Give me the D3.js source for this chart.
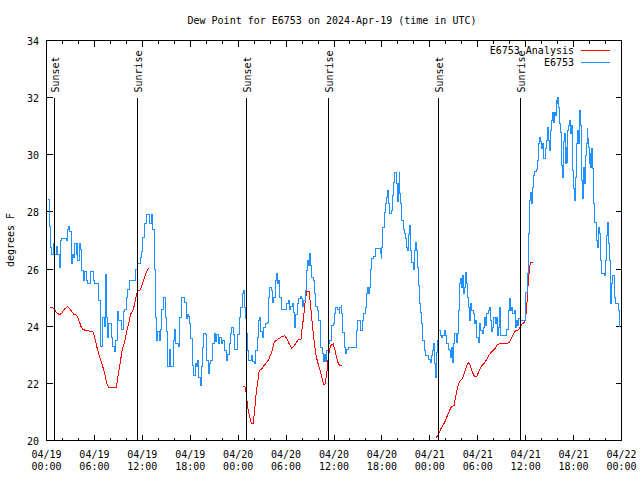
<!DOCTYPE html>
<html><head><meta charset="utf-8">
<script src="https://cdn.jsdelivr.net/npm/d3@7"></script>
<style>
body{margin:0;background:#fff;}
text{font-family:"DejaVu Sans Mono",monospace;font-size:10px;fill:#000;}
</style></head><body><svg id="c" width="640" height="480"></svg>
<script>
const chartTitle = "Dew Point for E6753 on 2024-Apr-19 (time in UTC)";
const yAxisLabel = "degrees F";
const startDate = [2024, 3, 19];
const spanHours = 72;
const yDomain = [20, 34];
const yTicks = [20, 22, 24, 26, 28, 30, 32, 34];
const seriesNames = ["E6753 Analysis", "E6753"];
const seriesColors = ["#ff0000", "#1e90ff"];
const sunEvents = [["Sunset", 0.93], ["Sunrise", 11.33], ["Sunset", 24.97], ["Sunrise", 35.30], ["Sunset", 48.97], ["Sunrise", 59.35]];

// [hours since 04/19 00:00 UTC, dew point F]
const stationReadings = [
[0.16,28.45],[0.34,28.3],[0.41,27.5],[0.50,26.77],[0.59,26.5],[0.79,26.5],[0.92,26.9],[1.04,26.5],[1.22,26.8],[1.42,26.5],
[1.63,26.05],[1.76,27.0],[1.92,27.07],[2.47,27.0],[2.60,27.4],[2.76,27.5],[2.89,27.3],[3.10,26.2],[3.22,26.5],[3.42,26.4],
[3.55,26.9],[3.73,26.5],[3.85,26.9],[3.93,26.3],[4.10,26.9],[4.27,26.7],[4.43,25.95],[4.60,25.6],[4.77,25.9],[4.98,25.6],
[5.18,25.5],[5.48,25.9],[5.68,25.9],[5.86,25.6],[6.02,25.5],[6.44,25.5],[6.56,24.9],[6.74,23.3],[6.90,23.3],[7.06,24.3],
[7.24,24.0],[7.40,25.8],[7.53,24.3],[7.65,23.6],[7.78,24.1],[7.99,24.1],[8.12,23.6],[8.32,23.3],[8.49,23.1],[8.66,23.5],
[8.87,24.5],[9.03,24.2],[9.28,24.2],[9.45,23.9],[9.62,24.5],[9.78,24.6],[10.00,25.0],[10.20,25.3],[10.45,25.6],[10.95,25.6],
[11.16,26.0],[11.38,26.2],[11.58,26.2],[11.75,26.4],[11.88,26.6],[12.08,27.1],[12.29,27.6],[12.51,27.9],[12.71,27.9],[12.88,27.6],
[13.05,27.6],[13.17,27.9],[13.33,27.4],[13.51,26.0],[13.67,24.3],[13.80,23.5],[13.96,23.8],[14.14,23.5],[14.30,23.9],[14.46,24.6],
[14.68,25.0],[14.84,24.3],[15.02,23.8],[15.18,22.6],[15.34,23.2],[15.52,22.6],[15.68,22.6],[15.84,23.5],[15.97,23.9],[16.14,23.4],
[16.47,23.3],[16.68,24.3],[16.90,25.0],[17.15,25.0],
[17.31,24.84],[17.52,24.27],[17.65,24.4],[17.81,24.35],[17.94,24.1],[18.06,23.57],[18.23,22.63],[18.44,22.27],[18.60,22.69],[18.78,22.6],
[18.94,22.8],[19.07,22.2],[19.23,21.93],[19.36,22.6],[19.53,23.27],[19.69,23.73],[19.91,23.7],[20.07,22.8],[20.23,22.33],[20.36,22.7],
[20.57,22.8],[20.79,23.38],[20.99,23.73],[21.16,23.45],[21.32,23.7],[21.49,23.4],[21.66,23.6],[21.86,23.4],[22.04,23.5],[22.24,23.15],
[22.49,22.8],[22.67,23.0],[22.87,23.4],[23.04,23.73],[23.21,23.97],[23.37,23.7],[23.55,23.2],[23.75,23.2],[23.92,23.7],[24.12,24.32],
[24.34,24.67],[24.50,25.13],[24.67,25.25],[24.80,24.67],[24.92,24.27],[25.09,23.73],[25.17,23.15],[25.25,22.8],[25.50,22.8],[25.68,22.97],
[25.80,22.75],[26.00,22.69],[26.18,23.15],[26.38,23.6],[26.56,24.2],[26.72,24.3],[26.84,23.8],[27.01,23.6],[27.22,23.97],[27.43,24.1],
[27.64,24.13],[27.76,25.02],[27.97,25.37],[28.14,25.25],[28.31,24.84],[28.48,25.02],[28.64,25.6],[28.76,25.86],[28.89,25.5],[29.07,25.6],
[29.23,25.02],[29.39,24.6],[29.64,24.6],[29.94,24.6],[30.11,24.79],[30.27,24.9],[30.39,24.6],[30.57,24.7],[30.77,24.79],[30.95,24.48],
[31.07,23.97],[31.24,24.4],[31.40,24.79],[31.57,24.96],[31.77,25.04],[31.95,24.96],[32.07,24.7],[32.24,24.9],[32.40,25.25],[32.58,25.95],
[32.70,26.3],[32.83,26.13],[32.95,26.53],[33.08,26.13],[33.24,25.72],[33.41,25.6],[33.58,25.13],[33.74,24.7],[33.91,24.55],[34.08,24.2],
[34.25,23.73],[34.37,23.27],[34.50,23.03],[34.66,22.75],[34.83,23.0],[34.96,22.75],[35.12,23.15],[35.25,23.38],[35.41,23.5],
[35.71,24.02],[35.91,24.08],[36.09,24.43],[36.25,24.67],[36.42,24.6],[36.63,24.43],[36.75,24.67],[36.88,24.73],[36.97,24.43],[37.09,23.79],
[37.26,23.27],[37.42,23.03],[37.59,23.2],[37.80,23.27],[38.64,23.27],[38.80,23.85],[38.97,24.2],[39.18,24.2],[39.35,23.85],[39.51,24.2],
[39.68,24.43],[39.89,24.67],[40.02,25.13],[40.18,25.37],[40.31,25.13],[40.43,25.37],[40.56,26.0],[40.73,26.36],[40.93,26.43],[41.14,26.71],
[41.56,26.71],[41.77,26.55],[41.90,26.37],[41.98,26.77],[42.11,27.47],[42.27,27.99],[42.44,28.28],[42.61,28.52],[42.74,28.75],[42.86,28.28],
[42.99,27.93],[43.15,28.05],[43.28,28.58],[43.40,29.04],[43.53,29.39],[43.69,29.39],[43.82,28.99],[43.90,28.35],[44.03,28.99],[44.15,29.39],
[44.24,28.63],[44.37,28.28],[44.49,27.7],[44.66,27.4],[44.78,27.25],[44.95,27.08],[45.07,26.77],[45.20,26.65],[45.32,27.2],[45.45,27.54],
[45.57,26.65],[45.75,26.24],[45.91,26.0],[46.04,26.65],[46.20,26.94],[46.33,26.65],[46.45,26.07],[46.63,25.43],[46.75,24.78],[46.88,24.48],
[47.00,24.08],[47.13,23.5],[47.29,23.15],[47.50,22.97],[47.70,22.97],[47.88,22.85],[48.04,22.73],[48.17,22.97],[48.29,23.15],[48.42,23.38],
[48.55,22.69],[48.67,22.22],[48.80,23.08],[48.96,23.5],[49.14,23.85],[49.30,23.67],[49.46,23.6],[49.64,23.67],[49.80,23.85],[49.96,23.67],
[50.14,23.38],[50.30,23.2],[50.47,23.15],[50.59,22.9],[50.72,23.27],[50.84,22.73],[50.97,23.38],[51.14,23.73],[51.31,23.43],[51.47,23.73],
[51.60,24.55],[51.72,25.48],[51.85,25.66],[51.97,25.37],[52.10,25.78],[52.22,25.13],[52.35,25.37],[52.47,25.89],[52.60,25.5],[52.72,25.02],
[52.85,24.67],[53.02,24.2],[53.15,24.78],[53.27,24.55],[53.44,24.43],[53.61,24.08],[53.78,24.2],[53.90,23.62],[54.07,23.43],
[54.23,24.08],[54.40,23.85],[54.57,23.73],[54.73,23.97],[54.90,24.32],[55.02,24.02],[55.15,24.43],[55.31,24.55],[55.44,24.67],[55.57,24.2],
[55.69,23.8],[55.86,23.97],[56.03,24.32],[56.20,24.08],[56.32,24.32],[56.45,23.67],[56.57,23.97],[56.70,24.67],[56.82,23.67],[57.45,23.67],
[57.66,23.9],[57.79,24.55],[57.92,24.96],[58.04,24.55],[58.21,24.67],[58.37,24.43],[58.55,24.55],[58.67,23.97],[58.80,24.2],[58.96,24.02],
[59.12,24.26],[59.33,24.2],[59.80,24.2],[59.96,25.19],[60.13,25.19],[60.25,25.83],[60.38,27.23],[60.50,28.4],[60.63,28.69],[60.71,28.3],
[60.80,28.87],[60.93,29.28],[61.09,29.43],[61.30,29.47],[61.50,29.8],[61.63,30.38],[61.75,30.62],[61.88,30.45],[62.00,30.21],[62.13,30.38],
[62.25,29.86],[62.43,30.21],[62.56,30.5],[62.68,30.97],[62.81,30.5],[62.93,30.15],[63.06,30.85],[63.18,31.2],[63.31,31.49],[63.43,31.14],
[63.56,31.49],[63.68,31.37],[63.81,31.9],[63.94,31.78],[64.01,32.02],[64.10,31.67],[64.19,31.08],[64.31,30.79],[64.44,30.15],[64.52,29.63],
[64.60,29.22],[64.73,30.45],[64.82,30.73],[64.94,29.69],[65.07,30.26],[65.14,29.74],[65.27,30.85],[65.40,31.02],[65.52,31.2],[65.65,30.73],
[65.77,31.02],[65.90,29.45],[66.02,28.81],[66.11,28.4],[66.19,29.22],[66.32,30.38],[66.44,30.85],[66.57,30.38],[66.69,31.31],[66.77,31.55],
[66.90,31.02],[66.99,29.1],[67.07,28.46],[67.20,29.57],[67.32,28.99],[67.45,29.98],[67.57,30.38],[67.70,30.91],[67.78,30.56],[67.87,30.26],
[67.95,29.69],[68.03,30.03],[68.11,29.57],[68.24,30.21],[68.37,29.51],[68.49,28.28],[68.62,27.64],[68.78,27.64],[68.91,27.0],[69.03,26.77],
[69.16,27.46],[69.28,27.23],[69.41,26.3],[69.53,25.83],[69.91,25.78],[70.03,26.3],[70.16,27.17],[70.28,27.64],[70.37,26.88],[70.50,26.3],
[70.58,25.54],[70.66,24.78],[70.75,25.48],[70.87,25.78],[71.04,25.78],[71.16,25.02],[71.29,24.78],[71.46,24.78],[71.58,24.55],[71.71,24.26],
[71.79,23.97]
];

// analysis; null marks gaps
const analysisReadings = [
[0.50,24.67],[0.92,24.63],[1.22,24.49],[1.63,24.4],[1.92,24.46],[2.26,24.6],[2.67,24.69],[3.01,24.57],[3.42,24.42],[3.80,24.38],
[4.05,24.21],[4.35,23.97],[4.55,23.88],[5.18,23.84],[5.81,23.8],[6.02,23.62],[6.31,23.27],[6.65,22.92],[7.06,22.57],[7.28,22.34],
[7.56,21.98],[7.78,21.87],[8.32,21.87],[8.74,21.85],[8.94,22.22],[9.16,22.6],[9.50,23.21],[9.78,23.45],[10.07,23.85],[10.29,24.08],
[10.54,24.43],[10.83,24.55],[11.04,24.78],[11.25,25.08],[11.45,25.23],[11.75,25.27],[11.95,25.43],[12.21,25.66],[12.42,25.83],[12.63,25.95],
[12.79,26.03],
[18.0,null],
[24.62,21.89],[24.92,21.87],[25.05,21.5],[25.25,21.05],[25.50,20.77],[25.68,20.58],[25.88,20.58],[26.05,21.05],[26.25,21.63],[26.47,22.1],
[26.63,22.45],[26.93,22.5],[27.22,22.62],[27.56,22.73],[27.85,22.85],[28.10,23.03],[28.31,23.2],[28.51,23.43],[28.73,23.5],[29.01,23.55],
[29.44,23.63],[29.85,23.67],[30.11,23.55],[30.36,23.4],[30.70,23.24],[30.95,23.28],[31.20,23.4],[31.52,23.52],[31.86,23.53],[32.02,23.97],
[32.20,24.32],[32.36,24.78],[32.58,25.23],[32.87,25.23],[33.03,24.84],[33.24,24.2],[33.45,23.62],[33.71,23.03],[33.96,22.73],[34.16,22.55],
[34.37,22.33],[34.58,22.1],[34.71,21.96],[34.87,21.96],[35.09,22.33],[35.25,22.8],[35.41,23.15],[35.63,23.33],[35.91,23.38],[36.13,23.15],
[36.34,22.9],[36.54,22.69],[36.75,22.63],[36.97,22.63],
[42.0,null],
[48.80,20.09],[49.08,20.23],[49.39,20.41],[49.71,20.56],[49.96,20.7],[50.21,20.88],[50.47,21.05],[50.68,21.17],[51.05,21.23],[51.22,21.52],
[51.39,21.75],[51.60,21.98],[51.81,22.1],[52.06,22.15],[52.31,22.35],[52.56,22.58],[52.81,22.73],[53.02,22.65],[53.22,22.47],[53.47,22.3],
[53.69,22.22],[53.90,22.26],[54.19,22.45],[54.53,22.63],[54.86,22.71],[55.16,22.86],[55.45,23.0],[55.78,23.12],[56.11,23.2],[56.41,23.34],
[56.61,23.37],[57.04,23.4],[57.66,23.4],[57.95,23.43],[58.20,23.58],[58.46,23.72],[58.71,23.83],[59.04,23.86],[59.29,23.95],[59.54,24.09],
[59.87,24.13],[60.05,24.43],[60.13,24.67],[60.25,25.25],[60.38,25.72],[60.50,26.07],[60.63,26.24],[60.88,26.24]
];

const svg = d3.select("#c");
const t0 = Date.UTC(startDate[0], startDate[1], startDate[2]);
const toDate = h => new Date(t0 + h * 3600e3);

const x = d3.scaleUtc().domain([toDate(0), toDate(spanHours)]).range([46.5, 621.5]);
const y = d3.scaleLinear().domain(yDomain).range([440.5, 40.5]);
const [L, R] = x.range();
const [B, T] = y.range();

const major = d3.utcHour.every(6).range(toDate(0), toDate(spanHours + 0.01));
const minor = d3.utcHour.every(2).range(toDate(0), toDate(spanHours + 0.01)).filter(d => d.getUTCHours() % 6 !== 0);

function clean(g){ g.select(".domain").remove(); g.attr("font-family", null).attr("font-size", null); }

// bottom axis major with two-line labels
const fmtD = d3.utcFormat("%m/%d"), fmtT = d3.utcFormat("%H:%M");
const gxb = svg.append("g").attr("transform", `translate(0,${B})`)
  .call(d3.axisBottom(x).tickValues(major).tickSize(-6).offset(0).tickFormat(""));
clean(gxb);
gxb.selectAll(".tick text").each(function(d){
  const t = d3.select(this).attr("y", null).attr("dy", null);
  t.append("tspan").attr("x", 0).attr("y", 17.5).text(fmtD(d));
  t.append("tspan").attr("x", 0).attr("y", 29).text(fmtT(d));
});
const gxbm = svg.append("g").attr("transform", `translate(0,${B})`)
  .call(d3.axisBottom(x).tickValues(minor).tickSize(-3).offset(0).tickFormat(""));
clean(gxbm);
const gxt = svg.append("g").attr("transform", `translate(0,${T})`)
  .call(d3.axisTop(x).tickValues(major).tickSize(-6).offset(0).tickFormat(""));
clean(gxt);
const gxtm = svg.append("g").attr("transform", `translate(0,${T})`)
  .call(d3.axisTop(x).tickValues(minor).tickSize(-3).offset(0).tickFormat(""));
clean(gxtm);

const gyl = svg.append("g").attr("transform", `translate(${L},0)`)
  .call(d3.axisLeft(y).tickValues(yTicks).tickSize(-6).tickPadding(7.5).offset(0).tickFormat(d3.format("d")));
clean(gyl);
gyl.selectAll(".tick text").attr("dy", "0.45em");
const gyr = svg.append("g").attr("transform", `translate(${R},0)`)
  .call(d3.axisRight(y).tickValues(yTicks).tickSize(-6).offset(0).tickFormat(""));
clean(gyr);

svg.selectAll(".tick line").attr("stroke", "#000").attr("shape-rendering", "crispEdges");

// data lines
const lineA = d3.line().defined(d => d[1] !== null)
  .x(d => x(toDate(d[0]))).y(d => y(d[1]));
const lineS = d3.line().curve(d3.curveStepAfter)
  .x(d => x(toDate(d[0]))).y(d => y(d[1]));

svg.append("path").datum(analysisReadings).attr("d", lineA)
  .attr("fill", "none").attr("stroke", seriesColors[0]).attr("stroke-width", 1)
  .attr("shape-rendering", "crispEdges");
svg.append("path").datum(stationReadings).attr("d", lineS)
  .attr("fill", "none").attr("stroke", seriesColors[1]).attr("stroke-width", 1)
  .attr("shape-rendering", "crispEdges");

// sunrise / sunset markers
const sun = svg.append("g");
sunEvents.forEach(([name, h]) => {
  const px = Math.round(x(toDate(h))) + 0.5;
  sun.append("line").attr("x1", px).attr("x2", px).attr("y1", 98).attr("y2", B)
    .attr("stroke", "#000").attr("shape-rendering", "crispEdges");
  sun.append("text").attr("transform", `translate(${px + 1},92.5) rotate(-90)`)
    .attr("text-anchor", "start").attr("dominant-baseline", "central").text(name);
});

// border
svg.append("rect").attr("x", L).attr("y", T).attr("width", R - L).attr("height", B - T)
  .attr("fill", "none").attr("stroke", "#000").attr("shape-rendering", "crispEdges");

// title and axis label
svg.append("text").attr("x", 332).attr("y", 24).attr("text-anchor", "middle").text(chartTitle);
svg.append("text").attr("transform", "translate(10,240) rotate(-90)")
  .attr("text-anchor", "middle").attr("dominant-baseline", "central").text(yAxisLabel);

// legend
seriesNames.forEach((n, i) => {
  const ly = 49.5 + i * 12.5;
  svg.append("text").attr("x", 574).attr("y", ly + 4.2).attr("text-anchor", "end").text(n);
  svg.append("line").attr("x1", 581).attr("x2", 610).attr("y1", Math.round(ly) + 0.5).attr("y2", Math.round(ly) + 0.5)
    .attr("stroke", seriesColors[i]).attr("stroke-width", 1).attr("shape-rendering", "crispEdges");
});
</script></body></html>
